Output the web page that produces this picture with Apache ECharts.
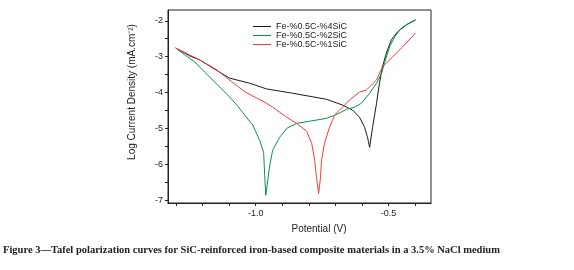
<!DOCTYPE html>
<html>
<head>
<meta charset="utf-8">
<script src="https://cdn.jsdelivr.net/npm/echarts@6/dist/echarts.min.js"></script>
<style>
  html, body { margin: 0; padding: 0; background: #fff; }
  #chart-container { width: 574px; height: 270px; }
</style>
</head>
<body>
<div id="chart-container"></div>
<script>
// potential (V) vs log current density
var sic4 = [
  [-1.301, -2.76], [-1.248, -2.98], [-1.211, -3.09], [-1.154, -3.35], [-1.098, -3.60],
  [-1.023, -3.74], [-0.959, -3.90], [-0.861, -4.02], [-0.733, -4.19], [-0.673, -4.35],
  [-0.635, -4.49], [-0.609, -4.69], [-0.590, -4.97], [-0.579, -5.25], [-0.571, -5.53],
  [-0.560, -4.97], [-0.545, -4.30], [-0.534, -3.74], [-0.523, -3.29], [-0.508, -2.90],
  [-0.489, -2.53], [-0.466, -2.31], [-0.432, -2.11], [-0.398, -1.98]
];
var sic2 = [
  [-1.301, -2.76], [-1.267, -2.95], [-1.229, -3.15], [-1.192, -3.43], [-1.154, -3.71],
  [-1.105, -4.07], [-1.071, -4.35], [-1.041, -4.63], [-1.011, -4.91], [-0.985, -5.33],
  [-0.970, -5.67], [-0.966, -6.31], [-0.962, -6.87], [-0.955, -6.87], [-0.947, -6.03],
  [-0.936, -5.61], [-0.910, -5.25], [-0.883, -5.00], [-0.846, -4.86], [-0.797, -4.80],
  [-0.733, -4.72], [-0.695, -4.61], [-0.658, -4.47], [-0.628, -4.41], [-0.602, -4.30],
  [-0.571, -4.02], [-0.545, -3.74], [-0.526, -3.46], [-0.515, -3.18], [-0.496, -2.73],
  [-0.477, -2.45], [-0.451, -2.20], [-0.421, -2.06], [-0.398, -1.97]
];
var sic1 = [
  [-1.301, -2.76], [-1.211, -3.09], [-1.150, -3.35], [-1.090, -3.70], [-1.041, -3.98],
  [-0.966, -4.27], [-0.936, -4.41], [-0.883, -4.69], [-0.846, -4.86], [-0.808, -5.08],
  [-0.789, -5.42], [-0.778, -5.89], [-0.771, -6.37], [-0.763, -6.82], [-0.756, -6.37],
  [-0.752, -5.89], [-0.741, -5.42], [-0.722, -4.97], [-0.703, -4.63], [-0.684, -4.49],
  [-0.647, -4.21], [-0.609, -3.99], [-0.583, -3.93], [-0.545, -3.65], [-0.523, -3.29],
  [-0.485, -3.01], [-0.447, -2.73], [-0.398, -2.34]
];
var xTicks = [-1.3, -1.2, -1.1, -1.0, -0.9, -0.8, -0.7, -0.6, -0.5, -0.4];
var xLabels = [-1.0, -0.5];
var yTicks = [-7, -6.5, -6, -5.5, -5, -4.5, -4, -3.5, -3, -2.5, -2];
var yLabels = [-7, -6, -5, -4, -3, -2];

var dom = document.getElementById('chart-container');
var myChart = echarts.init(dom, null, { renderer: 'canvas' });

var axisFont = 'Liberation Sans, Arial, sans-serif';
var colors = { sic4: '#1a1a1a', sic2: '#0f8f4f', sic1: '#f03c3c' };

var option = {
  animation: false,
  legend: {
    orient: 'vertical',
    left: 248,
    top: 17,
    itemGap: 0,
    itemWidth: 18,
    itemHeight: 10,
    textStyle: { fontFamily: axisFont, fontSize: 9, color: '#222' },
    data: [
      { name: 'Fe-%0.5C-%4SiC', icon: 'path://M0,4.5L18,4.5L18,5.5L0,5.5Z', itemStyle: { color: colors.sic4 } },
      { name: 'Fe-%0.5C-%2SiC', icon: 'path://M0,4.5L18,4.5L18,5.5L0,5.5Z', itemStyle: { color: colors.sic2 } },
      { name: 'Fe-%0.5C-%1SiC', icon: 'path://M0,4.5L18,4.5L18,5.5L0,5.5Z', itemStyle: { color: colors.sic1 } }
    ]
  },
  grid: {
    left: 168, right: 143, top: 10, bottom: 67,
    show: true, borderColor: '#222', borderWidth: 1
  },
  xAxis: {
    type: 'value',
    min: -1.33,
    max: -0.34,
    axisLine: { onZero: false, lineStyle: { color: '#222' } },
    splitLine: { show: false },
    axisTick: { customValues: xTicks, length: 3, lineStyle: { color: '#222' } },
    axisLabel: {
      customValues: xLabels, fontFamily: axisFont, fontSize: 9, color: '#222', margin: 6,
      formatter: function (v) { return v.toFixed(1); }
    }
  },
  yAxis: {
    type: 'value',
    min: -7.08,
    max: -1.7,
    axisLine: { show: true, onZero: false, lineStyle: { color: '#222' } },
    splitLine: { show: false },
    axisTick: { show: true, customValues: yTicks, length: 3, lineStyle: { color: '#222' } },
    axisLabel: { customValues: yLabels, fontFamily: axisFont, fontSize: 9, color: '#222', margin: 5 }
  },
  graphic: [
    {
      type: 'text', x: 132, y: 92, rotation: Math.PI / 2,
      style: {
        text: 'Log Current Density (mA.cm\u207B\u00B2)', fontFamily: axisFont, fontSize: 10,
        fill: '#222', align: 'center', verticalAlign: 'middle'
      }
    },
    {
      type: 'text', x: 319, y: 229,
      style: {
        text: 'Potential (V)', fontFamily: axisFont, fontSize: 10,
        fill: '#222', align: 'center', verticalAlign: 'middle'
      }
    },
    {
      type: 'text', x: 3, y: 250,
      style: {
        text: 'Figure 3\u2014Tafel polarization curves for SiC-reinforced iron-based composite materials in a 3.5% NaCl medium',
        fontFamily: 'Liberation Serif, serif', fontSize: 10.5, fontWeight: 'bold',
        fill: '#222', align: 'left', verticalAlign: 'middle'
      }
    }
  ],
  series: [
    { name: 'Fe-%0.5C-%4SiC', type: 'line', data: sic4, showSymbol: false,
      lineStyle: { color: colors.sic4, width: 1 }, itemStyle: { color: colors.sic4 } },
    { name: 'Fe-%0.5C-%2SiC', type: 'line', data: sic2, showSymbol: false,
      lineStyle: { color: colors.sic2, width: 1 }, itemStyle: { color: colors.sic2 } },
    { name: 'Fe-%0.5C-%1SiC', type: 'line', data: sic1, showSymbol: false,
      lineStyle: { color: colors.sic1, width: 1 }, itemStyle: { color: colors.sic1 } }
  ]
};

myChart.setOption(option);
window.addEventListener('resize', myChart.resize);
</script>
</body>
</html>
